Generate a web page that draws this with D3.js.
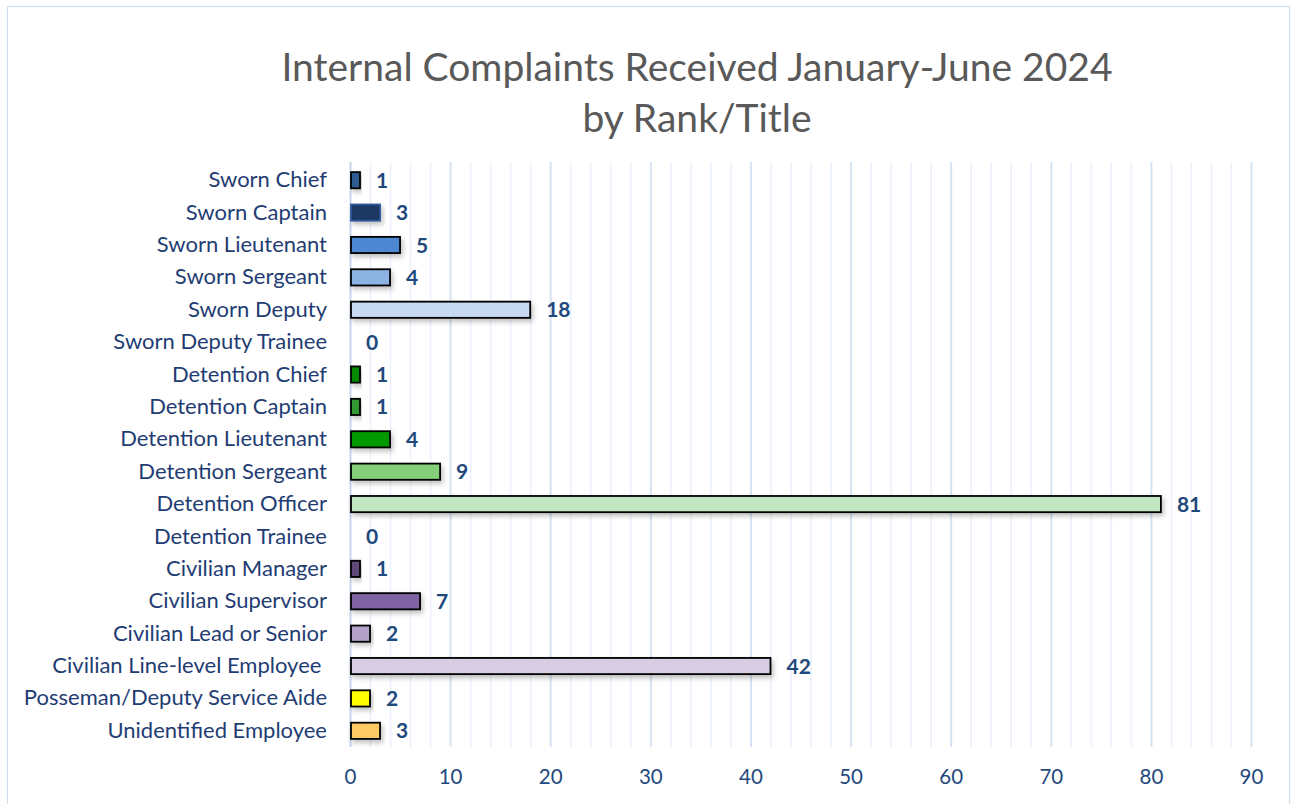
<!DOCTYPE html>
<html>
<head>
<meta charset="utf-8">
<script src="https://cdn.jsdelivr.net/npm/d3@7"></script>
<style>
  body { margin: 0; background: #fff; }
  svg { display: block; font-family: Lato, "Noto Sans", sans-serif; }
</style>
</head>
<body>
<svg id="chart"></svg>
<script>
'use strict'

const categories = [
  'Sworn Chief', 'Sworn Captain', 'Sworn Lieutenant', 'Sworn Sergeant', 'Sworn Deputy',
  'Sworn Deputy Trainee', 'Detention Chief', 'Detention Captain', 'Detention Lieutenant',
  'Detention Sergeant', 'Detention Officer', 'Detention Trainee', 'Civilian Manager',
  'Civilian Supervisor', 'Civilian Lead or Senior', 'Civilian Line-level Employee ',
  'Posseman/Deputy Service Aide', 'Unidentified Employee'
]
const counts = [1, 3, 5, 4, 18, 0, 1, 1, 4, 9, 81, 0, 1, 7, 2, 42, 2, 3]
const barColors = [
  '#2f5b91', '#1f3864', '#4f88d2', '#8db3e2', '#c6d9f1', '#c6d9f1',
  '#008a00', '#339933', '#009900', '#85cf7a', '#c3e6c3', '#c3e6c3',
  '#5f497a', '#8064a2', '#b3a2c7', '#d7cce2', '#ffff00', '#ffc963'
]
const barStrokes = [
  '#000', '#2e5597', '#000', '#000', '#000', '#000',
  '#000', '#000', '#000', '#000', '#000', '#000',
  '#000', '#000', '#000', '#000', '#000', '#000'
]
const xTicks = [0, 10, 20, 30, 40, 50, 60, 70, 80, 90]
const titleLines = ['Internal Complaints Received January-June 2024', 'by Rank/Title']

const W = 1294
const H = 804
const margin = { left: 350, right: 43, top: 164, bottom: 57 }
const font = 'Lato, "Noto Sans", sans-serif'

const svg = d3.select('#chart').attr('width', W).attr('height', H)

const defs = svg.append('defs')
const shadow = defs.append('filter').attr('id', 'shadow')
  .attr('x', '-10%').attr('y', '-40%').attr('width', '130%').attr('height', '200%')
shadow.append('feDropShadow')
  .attr('dx', 2).attr('dy', 3).attr('stdDeviation', 2.5)
  .attr('flood-color', '#000').attr('flood-opacity', 0.25)

// outer frame
svg.append('rect')
  .attr('x', 7.5).attr('y', 6.5).attr('width', W - 12).attr('height', H - 4)
  .attr('fill', '#fff').attr('stroke', '#cfddef').attr('stroke-width', 1.2)

const x = d3.scaleLinear().domain([0, 90]).range([margin.left, W - margin.right])
const y = d3.scaleBand().domain(categories)
  .range([margin.top, H - margin.bottom])
  .paddingInner(0.5).paddingOuter(0.25)

// gridlines: minor every 2, major every 10
const minor = d3.range(2, 91, 2).filter((v) => v % 10 !== 0)
svg.append('g').selectAll('line').data(minor).join('line')
  .attr('x1', (d) => x(d) + 0.5).attr('x2', (d) => x(d) + 0.5)
  .attr('y1', margin.top - 2).attr('y2', H - margin.bottom)
  .attr('stroke', '#eaf1fa').attr('stroke-width', 1.5)
svg.append('g').selectAll('line').data(xTicks).join('line')
  .attr('x1', (d) => x(d) + 0.5).attr('x2', (d) => x(d) + 0.5)
  .attr('y1', margin.top - 2).attr('y2', H - margin.bottom)
  .attr('stroke', (d) => d === 0 ? '#c5d7ee' : '#d6e3f3').attr('stroke-width', 2)

// x axis labels
const xAxis = d3.axisBottom(x).tickValues(xTicks).tickSize(0).tickPadding(0)
const gx = svg.append('g').attr('transform', `translate(0, ${H - margin.bottom})`).call(xAxis)
gx.select('.domain').remove()
gx.selectAll('text')
  .attr('dy', null).attr('y', 37)
  .style('font-size', '20.5px').style('font-family', font)
  .attr('fill', '#1f497d')

// category labels
const yAxis = d3.axisLeft(y).tickSize(0).tickPadding(0)
const gy = svg.append('g').attr('transform', `translate(${margin.left - 23}, 0)`).call(yAxis)
gy.select('.domain').remove()
gy.selectAll('text')
  .style('font-size', '22px').style('font-family', font)
  .style('white-space', 'pre')
  .attr('fill', '#1f3d73')

// bars
const barsG = svg.append('g')
counts.forEach((v, i) => {
  if (v <= 0) return
  barsG.append('rect')
    .attr('x', x(0) + 1)
    .attr('y', y(categories[i]))
    .attr('width', x(v) - x(0) - 1)
    .attr('height', y.bandwidth())
    .attr('fill', barColors[i])
    .attr('stroke', barStrokes[i])
    .attr('stroke-width', 1.8)
    .attr('filter', 'url(#shadow)')
})

// value labels
svg.append('g').selectAll('text').data(counts).join('text')
  .attr('x', (d) => x(d) + 16)
  .attr('y', (d, i) => y(categories[i]) + y.bandwidth() / 2)
  .attr('dy', '0.36em')
  .style('font-size', '21px').style('font-weight', 'bold')
  .attr('fill', '#1f497d')
  .text((d) => d)

// title
svg.append('g').selectAll('text').data(titleLines).join('text')
  .attr('x', 697)
  .attr('y', (d, i) => 81 + i * 51)
  .attr('text-anchor', 'middle')
  .style('font-size', '39px')
  .attr('fill', '#595959')
  .text((d) => d)
</script>
</body>
</html>
